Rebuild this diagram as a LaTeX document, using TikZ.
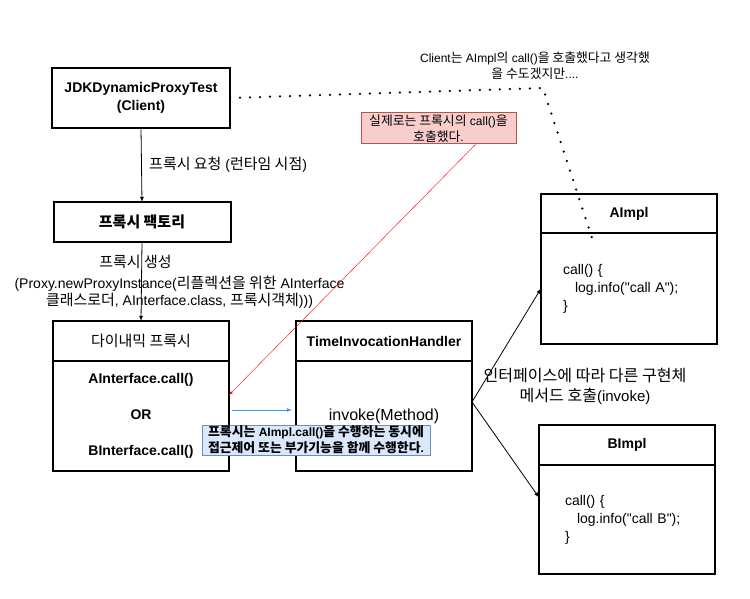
\documentclass[tikz,border=0pt]{standalone}
\usepackage{fontspec}
\setmainfont{Liberation Sans}[Ligatures=TeXOff]
\newfontfamily\kr{Noto Sans CJK KR}[Scale=1.07]
\newcommand{\ko}[1]{{\kr #1}}
\usetikzlibrary{positioning}
\definecolor{rosaRelleno}{HTML}{F8CECC}
\definecolor{rosaBorde}{HTML}{B85450}
\definecolor{azulRelleno}{HTML}{DAE8FC}
\definecolor{azulBorde}{HTML}{6C8EBF}
\definecolor{azulFlecha}{HTML}{3399FF}
\begin{document}
\begin{tikzpicture}[x=1pt,y=-1pt]
% estilos de linea y texto
\tikzstyle{caja}=[draw,line width=2pt,inner sep=0pt,outer sep=0pt,align=center,font=\fontsize{14}{18}\selectfont]
\tikzstyle{negrita}=[font=\fontsize{14}{18}\selectfont\bfseries]
\tikzstyle{texto}=[align=center,font=\fontsize{14}{17}\selectfont]
\tikzstyle{nota}=[draw,line width=1pt,inner sep=0pt,align=center,font=\fontsize{12}{16}\selectfont]
\tikzstyle{flecha}=[-latex,line width=0.8pt]
\tikzstyle{punteado}=[line width=2.5pt,dash pattern=on 0pt off 10pt,line cap=round]
\useasboundingbox (0,0) rectangle (750,599);
% cliente y fabrica
\node[caja,negrita,minimum width=178pt,minimum height=60pt] (cliente) at (141,98) {JDKDynamicProxyTest\\(Client)};
\node[caja,negrita,minimum width=177pt,minimum height=40pt] (fabrica) at (142,222) {\ko{프록시 팩토리}};
% proxy dinamico
\node[caja,minimum width=176pt,minimum height=40pt] (pCab) at (141,341) {\ko{다이내믹 프록시}};
\node[caja,negrita,minimum width=176pt,minimum height=110pt,below=0pt of pCab] (pCuerpo) {AInterface.call()\\[18pt]OR\\[18pt]BInterface.call()};
% manejador
\node[caja,negrita,minimum width=176pt,minimum height=40pt] (hCab) at (384,341) {TimeInvocationHandler};
\node[caja,minimum width=176pt,minimum height=110pt,below=0pt of hCab,font=\fontsize{16}{20}\selectfont] (hCuerpo) {invoke(Method)};
% implementaciones
\node[caja,negrita,minimum width=176pt,minimum height=39pt] (aCab) at (629,213.5) {AImpl};
\node[caja,minimum width=176pt,minimum height=111pt,below=0pt of aCab,align=left,text width=132pt,inner xsep=22pt] (aCuerpo) {call() \{\\\hspace*{12pt}log.info("call A");\\\}\par\vspace*{8pt}};
\node[caja,negrita,minimum width=176pt,minimum height=40pt] (bCab) at (627,445) {BImpl};
\node[caja,minimum width=176pt,minimum height=109pt,below=0pt of bCab,align=left,text width=124pt,inner xsep=26pt] (bCuerpo) {call() \{\\\hspace*{12pt}log.info("call B");\\\}\par\vspace*{4pt}};
% flechas
\draw[flecha] (cliente.south) -- (fabrica.north)
node[midway,right=4pt,texto] (etiqPedido) {\ko{프록시 요청} (\ko{런타임 시점})};
\draw[flecha] (fabrica.south) -- (pCab.north)
node[midway,xshift=38pt,texto] (etiqCrear) {\ko{프록시 생성}\hspace*{88pt}\\[4pt](Proxy.newProxyInstance(\ko{리플렉션을 위한} AInterface\\\ko{클래스로더}, AInterface.class, \ko{프록시객체})))};
\coordinate (horq) at ([yshift=14pt]hCuerpo.east);
\draw[flecha] (horq) -- (aCuerpo.west);
\draw[flecha] (horq) -- ([yshift=22pt]bCuerpo.west);
\node[texto,font=\fontsize{15}{20}\selectfont] (etiqInvoke) at (585,386) {\ko{인터페이스에 따라 다른 구현체}\\\ko{메서드 호출}(invoke)};
\draw[flecha,azulFlecha] ([xshift=3pt,yshift=6pt]pCuerpo.east) -- ([xshift=-4pt,yshift=6pt]hCuerpo.west);
% notas
\node[nota,fill=azulRelleno,draw=azulBorde,minimum width=228pt,minimum height=30pt,font=\fontsize{12}{16}\selectfont\bfseries] (notaAzul) at (316,440) {\ko{프록시는} AImpl.call()\ko{을 수행하는 동시에}\\\ko{접근제어 또는 부가기능을 함께 수행한다}.};
\node[nota,fill=rosaRelleno,draw=rosaBorde,minimum width=155pt,minimum height=31pt] (notaRoja) at (438.5,128.5) {\ko{실제로는 프록시의} call()\ko{을}\\\ko{호출했다}.};
\draw[-latex,red] ([xshift=37pt]notaRoja.south) -- ([yshift=21pt]pCuerpo.east);
\node[texto,font=\fontsize{12}{16}\selectfont] (notaCliente) at (535,66) {Client\ko{는} AImpl\ko{의} call()\ko{을 호출했다고 생각했}\\\ko{을 수도겠지만}....};
% linea punteada
\coordinate (codo) at (543,88);
\coordinate (finPunto) at (592,238);
\draw[punteado] (cliente.east) -- (codo) -- (finPunto);
\end{tikzpicture}
\end{document}
